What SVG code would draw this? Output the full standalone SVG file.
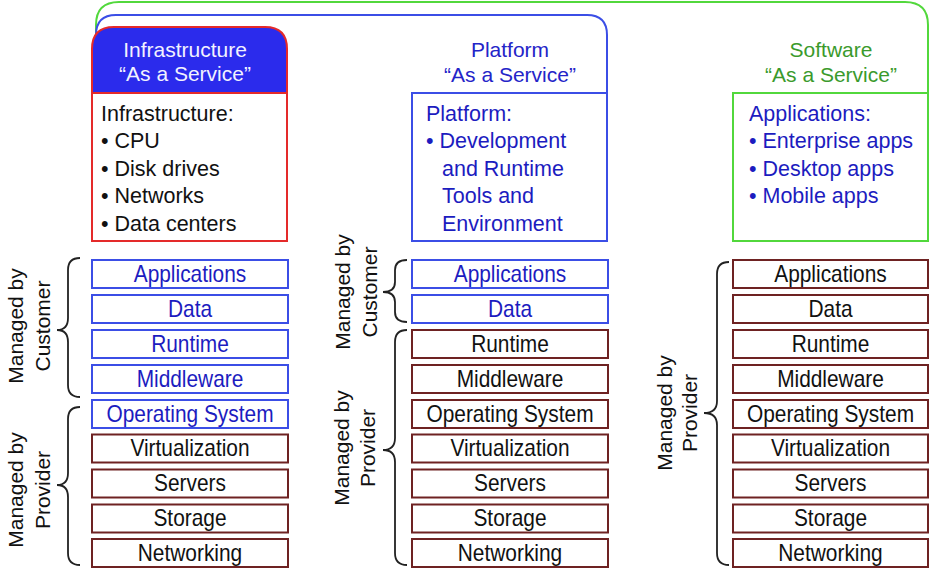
<svg xmlns="http://www.w3.org/2000/svg" width="930" height="570" viewBox="0 0 930 570">
<style>
text{font-family:"Liberation Sans",Arial,sans-serif}
.hd{font-size:21px;text-anchor:middle}
.bd{font-size:21.5px}
.ly{font-size:24px;text-anchor:middle;transform-box:fill-box;transform-origin:center;transform:scale(0.87,1)}
.lb{font-size:21px;text-anchor:middle;fill:#111}
.bl rect{fill:#fff;stroke:#3b4ee6;stroke-width:2}
.bl text{fill:#1c1cbf}
.mr rect{fill:#fff;stroke:#6e2222;stroke-width:2}
.mr text{fill:#111}
.br{fill:none;stroke:#222;stroke-width:1.8}
</style>
<rect width="930" height="570" fill="#fff"/>
<g id="outlines" fill="none" stroke-width="2">
<path d="M96,42 V25 Q96,2 119,2 H905 Q928,2 928,25 V93" stroke="#52d83c"/>
<path d="M96,42 V35 Q96,15 116,15 H587 Q607,15 607,35 V93" stroke="#3b4ee6"/>
</g>
<g id="iaas">
<path d="M92,93 V49 Q92,27 114,27 H265 Q287,27 287,49 V93 Z" fill="#2b2bec" stroke="#e42a2a" stroke-width="2"/>
<text class="hd" x="185" y="57" fill="#f2f2ff">Infrastructure</text>
<text class="hd" x="185" y="81" fill="#f2f2ff">“As a Service”</text>
<rect x="92" y="93" width="195" height="148" fill="#fff" stroke="#e42a2a" stroke-width="2"/>
<text class="bd" fill="#111"><tspan x="101" y="121">Infrastructure:</tspan><tspan x="101" y="148">• CPU</tspan><tspan x="101" y="176">• Disk drives</tspan><tspan x="101" y="203">• Networks</tspan><tspan x="101" y="231">• Data centers</tspan></text>
</g>
<g id="paas">
<text class="hd" x="510" y="57" fill="#2424c8">Platform</text>
<text class="hd" x="510" y="82" fill="#2424c8">“As a Service”</text>
<rect x="412" y="93" width="195" height="148" fill="#fff" stroke="#3b4ee6" stroke-width="2"/>
<text class="bd" fill="#1c1cbf"><tspan x="426" y="121">Platform:</tspan><tspan x="426" y="148">• Development</tspan><tspan x="442" y="176">and Runtime</tspan><tspan x="442" y="203">Tools and</tspan><tspan x="442" y="231">Environment</tspan></text>
</g>
<g id="saas">
<text class="hd" x="831" y="57" fill="#3a9a2c">Software</text>
<text class="hd" x="831" y="82" fill="#3a9a2c">“As a Service”</text>
<rect x="733" y="93" width="195" height="148" fill="#fff" stroke="#52d83c" stroke-width="2"/>
<text class="bd" fill="#1c1cbf"><tspan x="749" y="121">Applications:</tspan><tspan x="749" y="148">• Enterprise apps</tspan><tspan x="749" y="176">• Desktop apps</tspan><tspan x="749" y="203">• Mobile apps</tspan></text>
</g>
<g id="iaas-stack">
<g class="bl"><rect x="92" y="260" width="196" height="28"/><text class="ly" x="190" y="282">Applications</text></g>
<g class="bl"><rect x="92" y="295" width="196" height="28"/><text class="ly" x="190" y="317">Data</text></g>
<g class="bl"><rect x="92" y="330" width="196" height="28"/><text class="ly" x="190" y="352">Runtime</text></g>
<g class="bl"><rect x="92" y="365" width="196" height="28"/><text class="ly" x="190" y="387">Middleware</text></g>
<g class="bl"><rect x="92" y="400" width="196" height="28"/><text class="ly" x="190" y="422">Operating System</text></g>
<g class="mr"><rect x="92" y="434.5" width="196" height="28"/><text class="ly" x="190" y="456.5">Virtualization</text></g>
<g class="mr"><rect x="92" y="469.5" width="196" height="28"/><text class="ly" x="190" y="491.5">Servers</text></g>
<g class="mr"><rect x="92" y="504.5" width="196" height="28"/><text class="ly" x="190" y="526.5">Storage</text></g>
<g class="mr"><rect x="92" y="539" width="196" height="28"/><text class="ly" x="190" y="561">Networking</text></g>
</g>
<g id="paas-stack">
<g class="bl"><rect x="412" y="260" width="196" height="28"/><text class="ly" x="510" y="282">Applications</text></g>
<g class="bl"><rect x="412" y="295" width="196" height="28"/><text class="ly" x="510" y="317">Data</text></g>
<g class="mr"><rect x="412" y="330" width="196" height="28"/><text class="ly" x="510" y="352">Runtime</text></g>
<g class="mr"><rect x="412" y="365" width="196" height="28"/><text class="ly" x="510" y="387">Middleware</text></g>
<g class="mr"><rect x="412" y="400" width="196" height="28"/><text class="ly" x="510" y="422">Operating System</text></g>
<g class="mr"><rect x="412" y="434.5" width="196" height="28"/><text class="ly" x="510" y="456.5">Virtualization</text></g>
<g class="mr"><rect x="412" y="469.5" width="196" height="28"/><text class="ly" x="510" y="491.5">Servers</text></g>
<g class="mr"><rect x="412" y="504.5" width="196" height="28"/><text class="ly" x="510" y="526.5">Storage</text></g>
<g class="mr"><rect x="412" y="539" width="196" height="28"/><text class="ly" x="510" y="561">Networking</text></g>
</g>
<g id="saas-stack">
<g class="mr"><rect x="733" y="260" width="195" height="28"/><text class="ly" x="830.5" y="282">Applications</text></g>
<g class="mr"><rect x="733" y="295" width="195" height="28"/><text class="ly" x="830.5" y="317">Data</text></g>
<g class="mr"><rect x="733" y="330" width="195" height="28"/><text class="ly" x="830.5" y="352">Runtime</text></g>
<g class="mr"><rect x="733" y="365" width="195" height="28"/><text class="ly" x="830.5" y="387">Middleware</text></g>
<g class="mr"><rect x="733" y="400" width="195" height="28"/><text class="ly" x="830.5" y="422">Operating System</text></g>
<g class="mr"><rect x="733" y="434.5" width="195" height="28"/><text class="ly" x="830.5" y="456.5">Virtualization</text></g>
<g class="mr"><rect x="733" y="469.5" width="195" height="28"/><text class="ly" x="830.5" y="491.5">Servers</text></g>
<g class="mr"><rect x="733" y="504.5" width="195" height="28"/><text class="ly" x="830.5" y="526.5">Storage</text></g>
<g class="mr"><rect x="733" y="539" width="195" height="28"/><text class="ly" x="830.5" y="561">Networking</text></g>
</g>
<g id="braces">
<path class="br" d="M80,258 Q68,258 68,270 V318 Q68,330 57,330 Q68,330 68,342 V385 Q68,397 80,397"/>
<path class="br" d="M80,407 Q68,407 68,419 V473 Q68,485 57,485 Q68,485 68,497 V553 Q68,565 80,565"/>
<path class="br" d="M407,260 Q395,260 395,270 V282 Q395,292 383,292 Q395,292 395,302 V312 Q395,322 407,322"/>
<path class="br" d="M407,330 Q395,330 395,342 V438 Q395,450 383,450 Q395,450 395,462 V553 Q395,565 407,565"/>
<path class="br" d="M729,262 Q717,262 717,274 V401 Q717,413 704,413 Q717,413 717,425 V553 Q717,565 729,565"/>
</g>
<g id="labels">
<text class="lb" transform="translate(23,326) rotate(-90)">Managed by</text>
<text class="lb" transform="translate(50,326) rotate(-90)">Customer</text>
<text class="lb" transform="translate(23,490) rotate(-90)">Managed by</text>
<text class="lb" transform="translate(50,490) rotate(-90)">Provider</text>
<text class="lb" transform="translate(350,292) rotate(-90)">Managed by</text>
<text class="lb" transform="translate(377,292) rotate(-90)">Customer</text>
<text class="lb" transform="translate(349,448) rotate(-90)">Managed by</text>
<text class="lb" transform="translate(375,448) rotate(-90)">Provider</text>
<text class="lb" transform="translate(672,413) rotate(-90)">Managed by</text>
<text class="lb" transform="translate(697,413) rotate(-90)">Provider</text>
</g>
</svg>
